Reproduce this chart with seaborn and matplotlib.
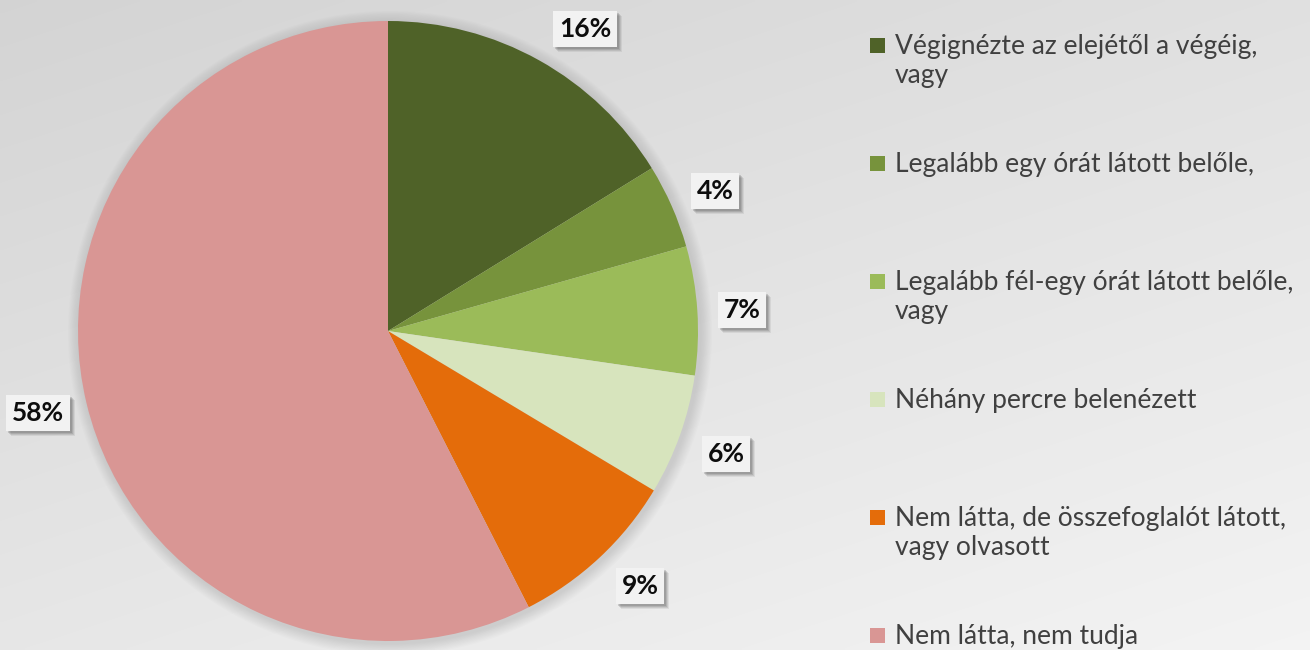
import numpy as np
import matplotlib
matplotlib.use("Agg")
import matplotlib.pyplot as plt
import seaborn as sns
from matplotlib.patches import Circle, Rectangle

# ---------------- data ----------------
categories = [
    "Végignézte az elejétől a végéig,\nvagy",
    "Legalább egy órát látott belőle,",
    "Legalább fél-egy órát látott belőle,\nvagy",
    "Néhány percre belenézett",
    "Nem látta, de összefoglalót látott,\nvagy olvasott",
    "Nem látta, nem tudja",
]
values = [16.2, 4.4, 6.7, 6.3, 8.9, 57.5]
value_labels = ["16%", "4%", "7%", "6%", "9%", "58%"]
colors = ["#4F6228", "#77933C", "#9BBB59", "#D7E4BD", "#E46C0A", "#D99694"]

# ---------------- layout (pixels, y measured from top) ----------------
W, H = 1310, 650
pie_cx, pie_cy, pie_r = 388, 331, 310
label_pos = [(585, 29), (715, 191), (742, 310), (726, 454), (640, 586), (38, 413)]
leg_sq_x, leg_sq_y0, leg_step, leg_sq = 877.5, 45.5, 118, 15
leg_text_x, leg_base0 = 895, 54
leg_fs = 19

sns.set_theme(style="white")
plt.rcParams["font.family"] = ["Lato", "DejaVu Sans"]

fig = plt.figure(figsize=(W / 100, H / 100), dpi=100)
ax = fig.add_axes([0, 0, 1, 1])

# background gradient
xx, yy = np.meshgrid(np.linspace(0, 1, 400), np.linspace(0, 1, 200))
v = 0.955 - 0.05 * (1 - xx) - 0.075 * yy
img = np.dstack([v, v, v])
ax.imshow(img, extent=[0, W, H, 0], origin="upper", zorder=0, aspect="auto",
          interpolation="bilinear")

def Y(y):
    return H - y

# soft pie shadow
for k in range(10, 0, -1):
    ax.add_patch(Circle((pie_cx + 2, Y(pie_cy + 2)), pie_r + k * 1.2,
                        facecolor="#7a7a7a", edgecolor="none", alpha=0.025, zorder=1))

wedges, _ = ax.pie(values, colors=colors, startangle=90, counterclock=False,
                   center=(pie_cx, Y(pie_cy)), radius=pie_r,
                   wedgeprops=dict(linewidth=0))
for w in wedges:
    w.set_zorder(2)

ax.set_xlim(0, W)
ax.set_ylim(0, H)
ax.set_aspect("equal")
ax.axis("off")

# data labels in boxes
label_texts = []
for (lx, ly), txt in zip(label_pos, value_labels):
    t = ax.text(lx, Y(ly), txt, ha="center", va="center", fontsize=19,
                fontweight="bold", color="#0d0d0d", zorder=5,
                bbox=dict(boxstyle="square,pad=0.22", fc="#F2F2F2", ec="none"))
    label_texts.append(t)

# legend (manual, evenly spaced as in the reference)
for i, (lab, col) in enumerate(zip(categories, colors)):
    cy = leg_sq_y0 + i * leg_step
    ax.add_patch(Rectangle((leg_sq_x - leg_sq / 2, Y(cy + leg_sq / 2)), leg_sq, leg_sq,
                           facecolor=col, edgecolor="none", zorder=5))
    ax.text(leg_text_x, Y(leg_base0 + i * leg_step - 0.745 * leg_fs * 100 / 72), lab,
            ha="left", va="top", fontsize=leg_fs, color="#404040",
            linespacing=1.2, zorder=5)

# soft shadows behind the label boxes
fig.canvas.draw()
for t in label_texts:
    bb = t.get_bbox_patch().get_window_extent()
    for dx, a in [(5, 0.10), (4, 0.14), (3, 0.18), (2, 0.22)]:
        ax.add_patch(Rectangle((bb.x0 + dx, bb.y0 - dx), bb.width, bb.height,
                               facecolor="#555555", edgecolor="none", alpha=a, zorder=4))

fig.savefig("out.png", dpi=100)
